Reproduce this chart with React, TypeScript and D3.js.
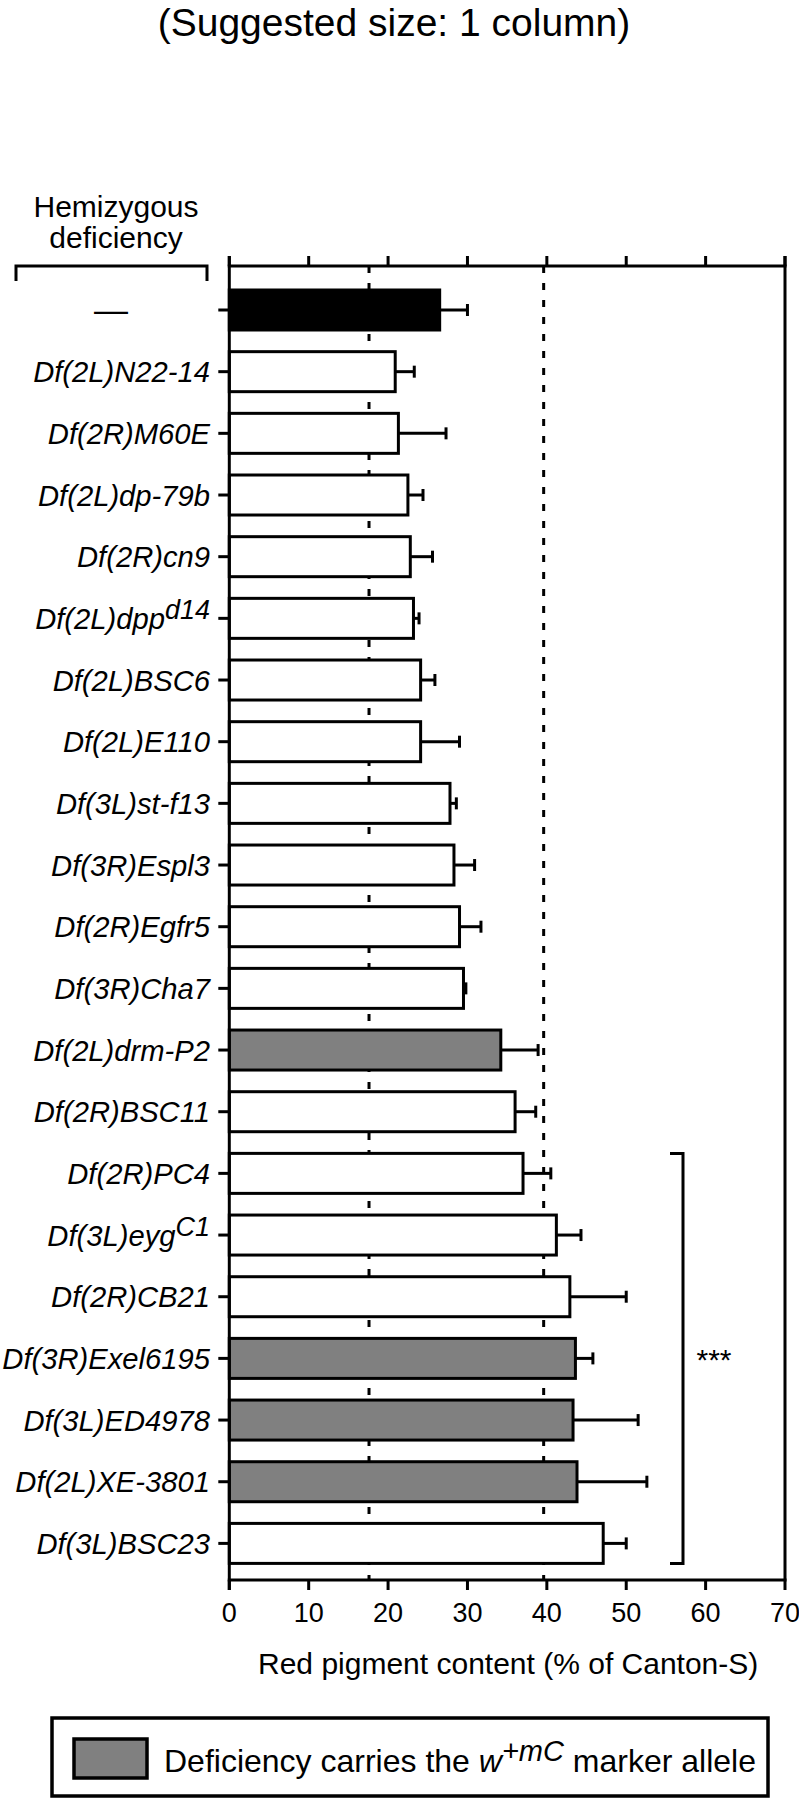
import React from 'react';
import * as d3 from 'd3';

// rows, top to bottom
const labelBase = [
  '—', 'Df(2L)N22-14', 'Df(2R)M60E', 'Df(2L)dp-79b', 'Df(2R)cn9', 'Df(2L)dpp',
  'Df(2L)BSC6', 'Df(2L)E110', 'Df(3L)st-f13', 'Df(3R)Espl3', 'Df(2R)Egfr5',
  'Df(3R)Cha7', 'Df(2L)drm-P2', 'Df(2R)BSC11', 'Df(2R)PC4', 'Df(3L)eyg',
  'Df(2R)CB21', 'Df(3R)Exel6195', 'Df(3L)ED4978', 'Df(2L)XE-3801', 'Df(3L)BSC23',
];
const labelSup = ['', '', '', '', '', 'd14', '', '', '', '', '', '', '', '', '', 'C1', '', '', '', '', ''];
const means = [26.5, 20.9, 21.3, 22.5, 22.8, 23.2, 24.1, 24.1, 27.8, 28.3, 29.0, 29.5, 34.2, 36.0, 37.0, 41.2, 42.9, 43.6, 43.3, 43.8, 47.1];
const sems = [3.5, 2.4, 6.0, 1.9, 2.8, 0.7, 1.8, 4.9, 0.8, 2.6, 2.7, 0.3, 4.7, 2.6, 3.5, 3.1, 7.1, 2.2, 8.2, 8.8, 2.9];
// 'ctrl' = black control, 'marker' = carries w+mC (grey), 'plain' = white
const kinds = ['ctrl', 'plain', 'plain', 'plain', 'plain', 'plain', 'plain', 'plain', 'plain', 'plain', 'plain',
  'plain', 'marker', 'plain', 'plain', 'plain', 'plain', 'marker', 'marker', 'marker', 'plain'];
const xTicks = [0, 10, 20, 30, 40, 50, 60, 70];
const refLines = [17.6, 39.6];
const sigFrom = 14; // Df(2R)PC4
const sigTo = 20;   // Df(3L)BSC23

const FONT = '"Liberation Sans", Arial, Helvetica, sans-serif';
const fillFor: Record<string, string> = { ctrl: '#000', marker: '#808080', plain: '#fff' };

export default function App() {
  const W = 799;
  const H = 1810;
  const plotTop = 266;
  const plotBottom = 1580;

  const x = d3.scaleLinear().domain([0, 70]).range([229.3, 785]);
  const y = d3.scalePoint<number>()
    .domain(d3.range(labelBase.length))
    .range([310, 1543.4]);
  const barH = 40;
  const sw = 3;

  const x0 = x(0);
  const x70 = x(70);

  return (
    <svg width={W} height={H} viewBox={`0 0 ${W} ${H}`}
      style={{ position: 'absolute', left: 0, top: 0, background: '#fff' }}
      fontFamily={FONT}>
      <rect x={0} y={0} width={W} height={H} fill="#fff" />

      <text x={394} y={36} fontSize={39} textAnchor="middle">(Suggested size: 1 column)</text>

      {/* row-group header */}
      <text x={116} y={217} fontSize={30} textAnchor="middle">Hemizygous</text>
      <text x={116} y={248} fontSize={30} textAnchor="middle">deficiency</text>
      <path d={`M16,281V${plotTop}H207V281`} fill="none" stroke="#000" strokeWidth={sw} />

      {/* reference dotted lines */}
      {refLines.map((v) => (
        <line key={v} x1={x(v)} x2={x(v)} y1={plotTop} y2={plotBottom}
          stroke="#000" strokeWidth={3} strokeDasharray="7,10" />
      ))}

      {/* bars */}
      {means.map((m, i) => {
        const cy = y(i) as number;
        const xe = x(m + sems[i]);
        return (
          <g key={i}>
            <line x1={x(m)} x2={xe} y1={cy} y2={cy} stroke="#000" strokeWidth={sw} />
            <line x1={xe} x2={xe} y1={cy - 6} y2={cy + 6} stroke="#000" strokeWidth={sw} />
            <rect x={x0} y={cy - barH / 2} width={x(m) - x0} height={barH}
              fill={fillFor[kinds[i]]} stroke="#000" strokeWidth={sw} />
          </g>
        );
      })}

      {/* frame */}
      <line x1={x0} x2={x70} y1={plotTop} y2={plotTop} stroke="#000" strokeWidth={sw} strokeLinecap="square" />
      <line x1={x0} x2={x70} y1={plotBottom} y2={plotBottom} stroke="#000" strokeWidth={sw} strokeLinecap="square" />
      <line x1={x0} x2={x0} y1={plotTop - 10} y2={plotBottom + 10} stroke="#000" strokeWidth={sw} />
      <line x1={x70} x2={x70} y1={plotTop - 10} y2={plotBottom} stroke="#000" strokeWidth={sw} />

      {/* x ticks, top and bottom */}
      {xTicks.map((t) => (
        <g key={t}>
          <line x1={x(t)} x2={x(t)} y1={plotTop - 10} y2={plotTop} stroke="#000" strokeWidth={sw} />
          <line x1={x(t)} x2={x(t)} y1={plotBottom} y2={plotBottom + 10} stroke="#000" strokeWidth={sw} />
          <text x={x(t)} y={1622} fontSize={27} textAnchor="middle">{t}</text>
        </g>
      ))}
      <text x={(x0 + x70) / 2 + 1} y={1674} fontSize={30} textAnchor="middle">Red pigment content (% of Canton-S)</text>

      {/* y ticks and labels */}
      {labelBase.map((lb, i) => {
        const cy = y(i) as number;
        return (
          <g key={lb}>
            <line x1={x0 - 11} x2={x0} y1={cy} y2={cy} stroke="#000" strokeWidth={sw} />
            {i === 0 ? (
              <text x={111} y={cy + 11} fontSize={34} textAnchor="middle">{lb}</text>
            ) : (
              <text x={210} y={cy + 10.5} fontSize={29.2} textAnchor="end" fontStyle="italic">
                {lb}
                {labelSup[i] && <tspan fontSize={27} dy={-10}>{labelSup[i]}</tspan>}
              </text>
            )}
          </g>
        );
      })}

      {/* significance bracket */}
      <path d={`M670,${(y(sigFrom) as number) - barH / 2}H683V${(y(sigTo) as number) + barH / 2}H670`}
        fill="none" stroke="#000" strokeWidth={sw} />
      <text x={714} y={1370} fontSize={30} textAnchor="middle">***</text>

      {/* legend */}
      <rect x={52} y={1718} width={716} height={78} fill="#fff" stroke="#000" strokeWidth={3.5} />
      <rect x={74} y={1739} width={73} height={39} fill="#808080" stroke="#000" strokeWidth={3.5} />
      <text x={164} y={1772} fontSize={32}>
        Deficiency carries the <tspan fontStyle="italic">w</tspan>
        <tspan fontStyle="italic" fontSize={29} dy={-11}>+mC</tspan>
        <tspan dy={11}> marker allele</tspan>
      </text>
    </svg>
  );
}
